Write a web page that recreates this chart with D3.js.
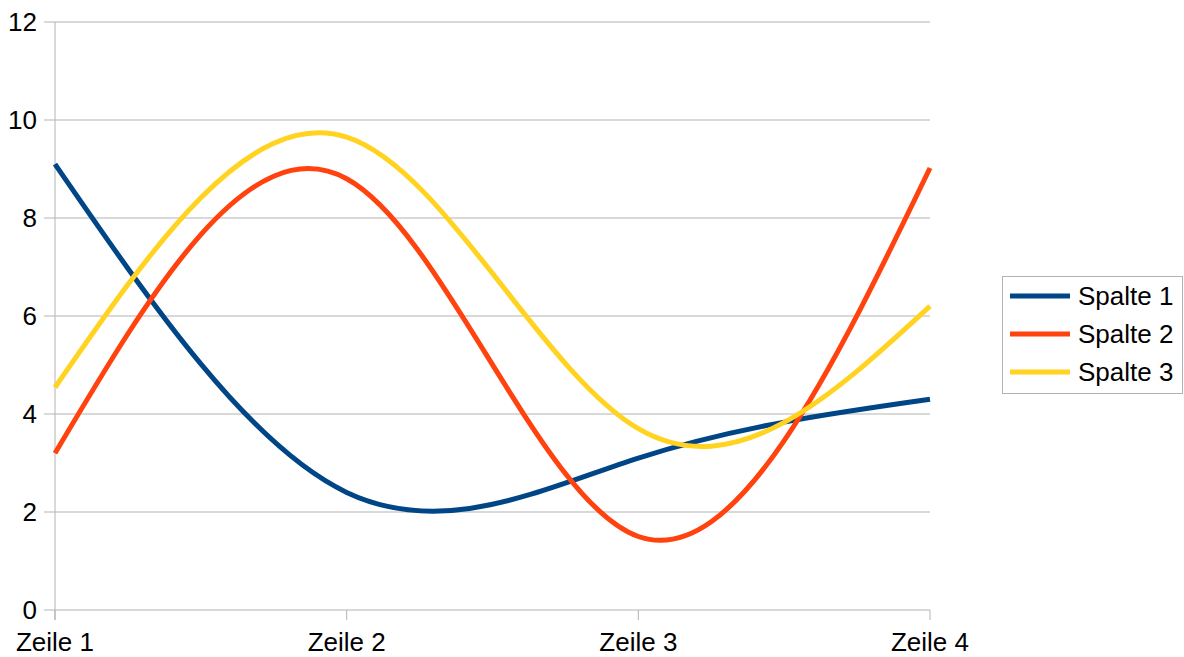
<!DOCTYPE html>
<html>
<head>
<meta charset="utf-8">
<script src="https://cdn.jsdelivr.net/npm/d3@7"></script>
<style>
  body { margin: 0; background: #fff; }
  svg { display: block; font-family: "Liberation Sans", Arial, sans-serif; }
</style>
</head>
<body>
<svg id="chart" width="1184" height="657"></svg>
<script>
const categories = ["Zeile 1", "Zeile 2", "Zeile 3", "Zeile 4"];
const seriesNames = ["Spalte 1", "Spalte 2", "Spalte 3"];
const spalte1 = [9.1, 2.4, 3.1, 4.3];
const spalte2 = [3.2, 8.8, 1.5, 9.02];
const spalte3 = [4.54, 9.65, 3.7, 6.2];
const yTicks = [0, 2, 4, 6, 8, 10, 12];
const colors = ["#004586", "#ff420e", "#ffd320"];

const series = [spalte1, spalte2, spalte3];

const svg = d3.select("#chart");
const plotLeft = 55, plotRight = 930, plotTop = 22, plotBottom = 610;
const fontSize = "26px";

const x = d3.scalePoint().domain(categories).range([plotLeft, plotRight]);
const y = d3.scaleLinear().domain([0, 12]).range([plotBottom, plotTop]);

// gridlines
svg.append("g")
  .selectAll("line")
  .data(yTicks)
  .enter()
  .append("line")
  .attr("x1", plotLeft - 11)
  .attr("x2", plotRight)
  .attr("y1", (d) => y(d))
  .attr("y2", (d) => y(d))
  .attr("stroke", "#b3b3b3")
  .attr("stroke-width", 1);

// y axis line
svg.append("line")
  .attr("x1", plotLeft).attr("x2", plotLeft)
  .attr("y1", plotTop).attr("y2", plotBottom + 10)
  .attr("stroke", "#b3b3b3");

// x ticks
svg.append("g")
  .selectAll("line")
  .data(categories)
  .enter()
  .append("line")
  .attr("x1", (d) => x(d))
  .attr("x2", (d) => x(d))
  .attr("y1", plotBottom)
  .attr("y2", plotBottom + 10)
  .attr("stroke", "#b3b3b3");

// y labels
svg.append("g")
  .selectAll("text")
  .data(yTicks)
  .enter()
  .append("text")
  .attr("x", plotLeft - 18)
  .attr("y", (d) => y(d))
  .attr("dy", "0.35em")
  .attr("text-anchor", "end")
  .style("font-size", fontSize)
  .text((d) => d);

// x labels
svg.append("g")
  .selectAll("text")
  .data(categories)
  .enter()
  .append("text")
  .attr("x", (d) => x(d))
  .attr("y", plotBottom + 41)
  .attr("text-anchor", "middle")
  .style("font-size", fontSize)
  .text((d) => d);

// lines
const line = d3.line()
  .x((d, i) => x(categories[i]))
  .y((d) => y(d))
  .curve(d3.curveNatural);

svg.append("g")
  .selectAll("path")
  .data(series)
  .enter()
  .append("path")
  .attr("d", (d) => line(d))
  .attr("fill", "none")
  .attr("stroke", (d, i) => colors[i])
  .attr("stroke-width", 5)
  .attr("stroke-linejoin", "round");

// legend
const legend = svg.append("g");
legend.append("rect")
  .attr("x", 1002.5).attr("y", 276.5)
  .attr("width", 180).attr("height", 117)
  .attr("fill", "#fff")
  .attr("stroke", "#b3b3b3");

const items = legend.selectAll("g.item")
  .data(seriesNames)
  .enter()
  .append("g")
  .attr("class", "item")
  .attr("transform", (d, i) => `translate(0, ${296 + i * 38})`);

items.append("line")
  .attr("x1", 1010).attr("x2", 1070)
  .attr("y1", 0).attr("y2", 0)
  .attr("stroke", (d, i) => colors[i])
  .attr("stroke-width", 5);

items.append("text")
  .attr("x", 1078)
  .attr("y", 0)
  .attr("dy", "0.35em")
  .style("font-size", fontSize)
  .text((d) => d);
</script>
</body>
</html>
